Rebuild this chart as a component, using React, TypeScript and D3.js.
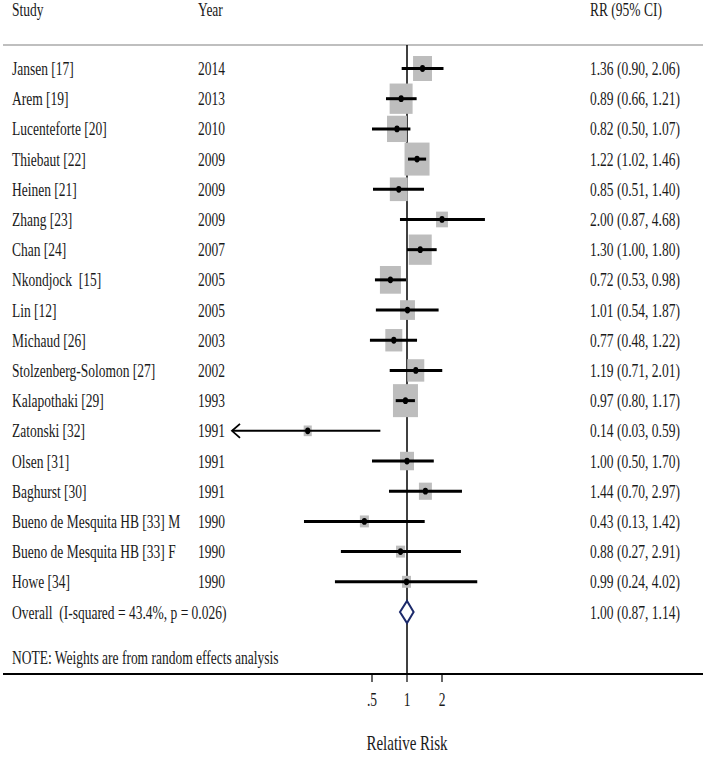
import React from "react";
import * as d3 from "d3";

const studies = [
  "Jansen [17]", "Arem [19]", "Lucenteforte [20]", "Thiebaut [22]", "Heinen [21]",
  "Zhang [23]", "Chan [24]", "Nkondjock  [15]", "Lin [12]", "Michaud [26]",
  "Stolzenberg-Solomon [27]", "Kalapothaki [29]", "Zatonski [32]", "Olsen [31]",
  "Baghurst [30]", "Bueno de Mesquita HB [33] M", "Bueno de Mesquita HB [33] F", "Howe [34]",
];
const years = [2014, 2013, 2010, 2009, 2009, 2009, 2007, 2005, 2005, 2003, 2002, 1993, 1991, 1991, 1991, 1990, 1990, 1990];
const rr = [1.36, 0.89, 0.82, 1.22, 0.85, 2.0, 1.3, 0.72, 1.01, 0.77, 1.19, 0.97, 0.14, 1.0, 1.44, 0.43, 0.88, 0.99];
const lo = [0.9, 0.66, 0.5, 1.02, 0.51, 0.87, 1.0, 0.53, 0.54, 0.48, 0.71, 0.8, 0.03, 0.5, 0.7, 0.13, 0.27, 0.24];
const hi = [2.06, 1.21, 1.07, 1.46, 1.4, 4.68, 1.8, 0.98, 1.87, 1.22, 2.01, 1.17, 0.59, 1.7, 2.97, 1.42, 2.91, 4.02];
const weights = [6.6, 9.7, 7.3, 11.5, 5.9, 2.6, 9.7, 8.1, 4.1, 5.3, 5.3, 11.5, 1.2, 3.6, 3.1, 1.5, 1.5, 1.5];
const overall = { label: "Overall  (I-squared = 43.4%, p = 0.026)", rr: 1.0, lo: 0.87, hi: 1.14 };
const ticks = [0.5, 1, 2];
const tickLabels = [".5", "1", "2"];
const fmt = (v: number) => v.toFixed(2);

export default function App() {
  const W = 705, H = 757;
  const x = d3.scaleLog().domain([0.5, 2]).range([372, 442]);
  const xMin = 1 / 32;
  const y = d3.scaleLinear().domain([0, 18]).range([68.5, 612]);
  const size = d3.scaleSqrt().domain([0, 11.5]).range([0, 25]);
  const font = "'Liberation Serif', 'Times New Roman', serif";
  const T = (props: { x: number; y: number; children: any; anchor?: string; fs?: number; sy?: number }) => (
    <text
      transform={`translate(${props.x},${props.y}) scale(1,${props.sy ?? 1.43})`}
      fontFamily={font}
      fontSize={props.fs ?? 13.5}
      fill="#1a1a1a"
      textAnchor={props.anchor ?? "start"}
      style={{ whiteSpace: "pre" }}
    >
      {props.children}
    </text>
  );
  const axisY = 674;
  return (
    <svg width={W} height={H} style={{ position: "absolute", left: 0, top: 0, background: "#fff" }}>
      <T x={12} y={16}>Study</T>
      <T x={198} y={16}>Year</T>
      <T x={590} y={16}>RR (95% CI)</T>
      <line x1={3} x2={703} y1={45} y2={45} stroke="#aaaaaa" strokeWidth={1.5} />
      <line x1={x(1)} x2={x(1)} y1={45} y2={axisY} stroke="#000" strokeWidth={1.5} />
      {studies.map((s, i) => {
        const cy = y(i);
        const w = size(weights[i]);
        const h = w * 1.32;
        const clipped = lo[i] < xMin;
        const x1 = clipped ? x(xMin) : x(lo[i]);
        return (
          <g key={s}>
            <rect x={x(rr[i]) - w / 2} y={cy - h / 2} width={w} height={h} fill="#bdbdbd" />
            {clipped ? (
              <>
                <line x1={x1} x2={x(hi[i])} y1={cy} y2={cy} stroke="#000" strokeWidth={2} />
                <polyline
                  points={`${x1 + 8},${cy - 7} ${x1},${cy} ${x1 + 8},${cy + 7}`}
                  fill="none"
                  stroke="#000"
                  strokeWidth={1.8}
                />
              </>
            ) : (
              <line x1={x1} x2={x(hi[i])} y1={cy} y2={cy} stroke="#000" strokeWidth={3} />
            )}
            <ellipse cx={x(rr[i])} cy={cy} rx={2.6} ry={3.4} fill="#000" />
            <T x={12} y={cy + 6.5}>{s}</T>
            <T x={198} y={cy + 6.5}>{years[i]}</T>
            <T x={590} y={cy + 6.5}>{`${fmt(rr[i])} (${fmt(lo[i])}, ${fmt(hi[i])})`}</T>
          </g>
        );
      })}
      {(() => {
        const cy = y(18);
        const pts = [
          [x(overall.lo), cy],
          [x(overall.rr), cy - 11],
          [x(overall.hi), cy],
          [x(overall.rr), cy + 11],
        ];
        return (
          <g>
            <polygon points={pts.map((p) => p.join(",")).join(" ")} fill="#fff" stroke="#1c2a6b" strokeWidth={2} />
            <T x={12} y={cy + 6.5}>{overall.label}</T>
            <T x={590} y={cy + 6.5}>{`${fmt(overall.rr)} (${fmt(overall.lo)}, ${fmt(overall.hi)})`}</T>
          </g>
        );
      })()}
      <T x={12} y={664}>NOTE: Weights are from random effects analysis</T>
      <line x1={3} x2={703} y1={axisY} y2={axisY} stroke="#000" strokeWidth={2} />
      {ticks.map((t, i) => (
        <g key={t}>
          <line x1={x(t)} x2={x(t)} y1={axisY} y2={axisY + 8} stroke="#000" strokeWidth={1.2} />
          <T x={x(t)} y={706} anchor="middle">{tickLabels[i]}</T>
        </g>
      ))}
      <T x={x(1)} y={750} anchor="middle" fs={15} sy={1.38}>Relative Risk</T>
    </svg>
  );
}
